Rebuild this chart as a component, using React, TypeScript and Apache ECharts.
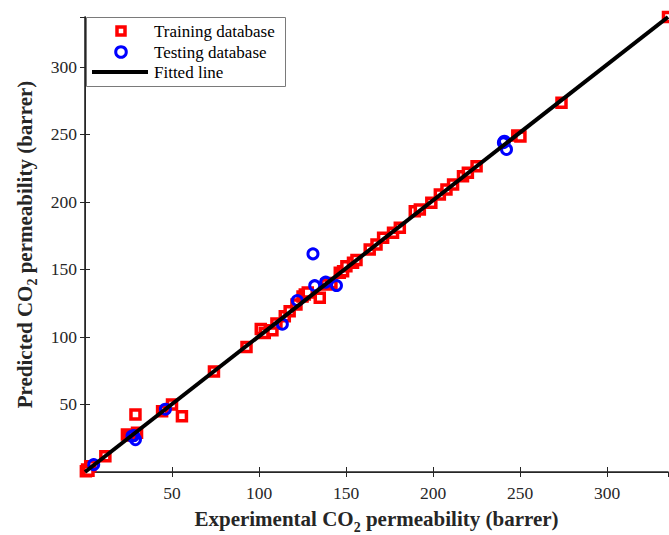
import React, { useEffect, useRef } from "react";
import * as echarts from "echarts";

const trainX = [0.5, 1.2, 3, 2, 11.7, 24.1, 26, 29.9, 29, 44.3, 50, 55.7, 74.1, 92.8, 101, 103.3, 107.7, 110, 114.8, 117.6, 121.5, 125, 126.3, 128, 134.9, 138.7, 141.6, 146.4, 148.3, 150.2, 154, 156, 163.6, 167.5, 171.3, 177, 180.9, 189.5, 192.4, 199, 203.9, 207.7, 211.5, 217.2, 220, 225, 248.4, 250.2, 273.8, 335];
const trainY = [0.5, 1.9, 4.3, 1, 11.7, 27.8, 27, 29, 42.6, 45, 50, 41.3, 74.4, 92.5, 106, 103, 105, 110, 115.4, 119.1, 124, 130, 131.5, 133, 129, 138.9, 140, 147.6, 148.7, 152.4, 155, 157, 164.8, 168.5, 173.5, 177.2, 180.9, 193.2, 194.4, 199.4, 205.6, 209.3, 213, 219.1, 221.6, 226.5, 249.3, 248.5, 273.5, 337];
const testX = [5, 27, 29, 28, 46.2, 113.4, 122, 131, 132, 138.3, 144.5, 240.4, 242.2, 241];
const testY = [5.5, 26.5, 24, 27, 46.5, 109.5, 127, 161.6, 138, 140.6, 138.1, 243.9, 238.9, 245];
const fitX = [0, 335];
const fitY = [0, 337];

const legendLabels = ["Training database", "Testing database", "Fitted line"];
const xTitle = "{a|Experimental CO}{s|2}{a| permeability (barrer)}";
const yTitle = "{a|Predicted CO}{s|2}{a| permeability (barrer)}";

const FONT = "Liberation Serif";
const AX = "#262626";

export default function App() {
  const ref = useRef<HTMLDivElement>(null);
  useEffect(() => {
    document.body.style.margin = "0";
    const chart = echarts.init(ref.current!, null, { renderer: "svg" });
    const rich = {
      a: { fontFamily: FONT, fontSize: 21, fontWeight: "bold", color: AX, lineHeight: 30, verticalAlign: "middle" },
      s: { fontFamily: FONT, fontSize: 14, fontWeight: "bold", color: AX, lineHeight: 14, verticalAlign: "bottom" },
    };
    const tickLabel = { fontFamily: FONT, fontSize: 17.5, color: AX };
    const gl = 85, gt = 17, gw = 583, gh = 455;
    chart.setOption({
      animation: false,
      grid: { left: gl, top: gt, width: gw, height: gh, outerBoundsMode: "none" },
      xAxis: [
        {
          type: "value", min: 0, max: 335, interval: 50, position: "bottom",
          axisLine: { show: true, lineStyle: { color: AX, width: 1.6 } },
          axisTick: { show: true, inside: true, length: 5, lineStyle: { color: AX, width: 1 } },
          axisLabel: { ...tickLabel, margin: 12, showMinLabel: false, showMaxLabel: false },
          splitLine: { show: false },
          name: xTitle, nameLocation: "middle", nameGap: 32,
          nameTextStyle: { rich },
        },
        {
          type: "value", min: 0, max: 335, interval: 50, position: "top",
          axisLine: { show: true, lineStyle: { color: AX, width: 1 } },
          axisTick: { show: true, inside: true, length: 5, lineStyle: { color: AX, width: 1 } },
          axisLabel: { show: false },
          splitLine: { show: false },
        },
      ],
      yAxis: [
        {
          type: "value", min: 0, max: 337, interval: 50, position: "left",
          axisLine: { show: true, lineStyle: { color: AX, width: 1.6 } },
          axisTick: { show: true, inside: true, length: 5, lineStyle: { color: AX, width: 1 } },
          axisLabel: { ...tickLabel, margin: 8, showMinLabel: false, showMaxLabel: false },
          splitLine: { show: false },
          name: yTitle, nameLocation: "middle", nameGap: 43,
          nameTextStyle: { rich },
        },
        {
          type: "value", min: 0, max: 337, interval: 50, position: "right",
          axisLine: { show: true, lineStyle: { color: AX, width: 1 } },
          axisTick: { show: true, inside: true, length: 5, lineStyle: { color: AX, width: 1 } },
          axisLabel: { show: false },
          splitLine: { show: false },
        },
      ],
      series: [
        {
          type: "scatter", name: legendLabels[0], xAxisIndex: 0, yAxisIndex: 0, clip: false,
          symbol: "rect", symbolSize: 9,
          itemStyle: { color: "#ffffff", borderColor: "#ff0000", borderWidth: 3.5, opacity: 1 },
          data: trainX.map((x, i) => [x, trainY[i]]),
          z: 2,
        },
        {
          type: "scatter", name: legendLabels[1], xAxisIndex: 0, yAxisIndex: 0, clip: false,
          symbol: "circle", symbolSize: 10,
          itemStyle: { color: "transparent", borderColor: "#0000ff", borderWidth: 3, opacity: 1 },
          data: testX.map((x, i) => [x, testY[i]]),
          z: 3,
        },
        {
          type: "line", name: legendLabels[2], xAxisIndex: 0, yAxisIndex: 0,
          showSymbol: false, symbol: "none",
          lineStyle: { color: "#000000", width: 4 },
          data: fitX.map((x, i) => [x, fitY[i]]),
          z: 4,
        },
      ],
      graphic: [
        {
          type: "rect", left: 86, top: 17, z: 10,
          shape: { x: 0, y: 0, width: 199, height: 69 },
          style: { fill: "#ffffff", stroke: "#7a7a7a", lineWidth: 1 },
        },
        {
          type: "rect", z: 11,
          shape: { x: 117, y: 27, width: 8, height: 8 },
          style: { fill: "#ffffff", stroke: "#ff0000", lineWidth: 3.5 },
        },
        {
          type: "circle", z: 11,
          shape: { cx: 121, cy: 52, r: 5.3 },
          style: { fill: "none", stroke: "#0000ff", lineWidth: 3 },
        },
        {
          type: "line", z: 11,
          shape: { x1: 92, y1: 72, x2: 148, y2: 72 },
          style: { stroke: "#000000", lineWidth: 4 },
        },
        ...legendLabels.map((t, i) => ({
          type: "text", z: 11, x: 154, y: [31, 52, 72][i],
          style: { text: t, fontFamily: FONT, fontSize: 17, fill: "#000000", verticalAlign: "middle", align: "left" },
        })),
      ],
    });
    return () => chart.dispose();
  }, []);
  return <div ref={ref} style={{ width: 669, height: 535 }} />;
}
